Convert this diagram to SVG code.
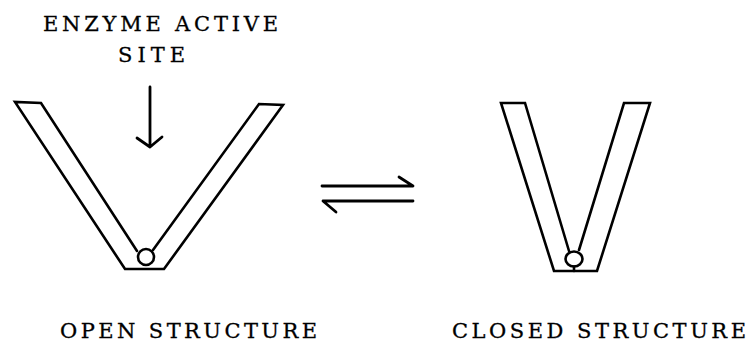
<svg xmlns="http://www.w3.org/2000/svg" width="752" height="346" viewBox="0 0 752 346">
<style>
.t{font-family:"DejaVu Serif","Liberation Serif",serif;font-size:21px;fill:#000;stroke:#000;stroke-width:0.3;}
.o{fill:none;stroke:#000;stroke-width:2.6;stroke-linejoin:miter;stroke-linecap:round;}
.a{fill:none;stroke:#000;stroke-width:2.8;stroke-linecap:round;stroke-linejoin:round;}
</style>
<rect width="752" height="346" fill="#fff"/>
<g id="label-active-site">
<text class="t" x="43" y="31" textLength="235" lengthAdjust="spacing">ENZYME ACTIVE</text>
<text class="t" x="118" y="62" textLength="67" lengthAdjust="spacing">SITE</text>
</g>
<g id="open-structure">
<path class="o" d="M137,251 L41,103 L15,102 L125,269 L164,269 L283,105 L259,104 L153,250"/>
<circle class="o" cx="146" cy="257" r="8"/>
<text class="t" x="60" y="338" textLength="257" lengthAdjust="spacing">OPEN STRUCTURE</text>
</g>
<g id="closed-structure">
<path class="o" d="M569,251 L525,103 L501,103 L554,271 L597,271 L650,103 L624,103 L579,250"/>
<ellipse class="o" cx="574" cy="259" rx="8.5" ry="7.5"/>
<line class="o" x1="574" y1="266.5" x2="574" y2="271"/>
<text class="t" x="452" y="338" textLength="294" lengthAdjust="spacing">CLOSED STRUCTURE</text>
</g>
<g id="connectors">
<path class="a" d="M150,87 L150,147 M137,138 L150,147 L162,137"/>
<path class="a" d="M322,186 L413,186 L399,177"/>
<path class="a" d="M413,201 L323,201 L336,212"/>
</g>
</svg>
